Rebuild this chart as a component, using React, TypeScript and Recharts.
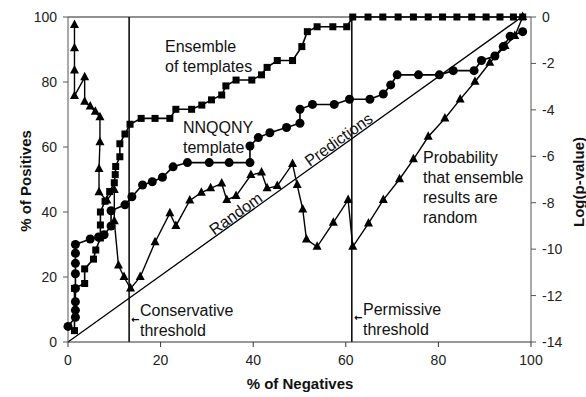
import { LineChart, Line, XAxis, YAxis, ReferenceLine } from "recharts";

// axis ticks
const xTicks = [0, 20, 40, 60, 80, 100];
const leftTicks = [0, 20, 40, 60, 80, 100];
const rightTicks = [0, -2, -4, -6, -8, -10, -12, -14];

// % of positives vs % of negatives, ensemble of templates
const ensemble = [
  { x: 1.4, y: 3.5 }, { x: 1.4, y: 16.5 }, { x: 3.6, y: 18 }, { x: 3.6, y: 22.5 },
  { x: 5.5, y: 25.5 }, { x: 6, y: 28.3 }, { x: 7, y: 32 }, { x: 7, y: 36 },
  { x: 7, y: 40 }, { x: 8, y: 43.3 }, { x: 9, y: 46.3 }, { x: 10, y: 49 },
  { x: 10.2, y: 51.5 }, { x: 10.3, y: 54 }, { x: 11.2, y: 57 }, { x: 11.2, y: 61 },
  { x: 12.3, y: 64 }, { x: 13.4, y: 67 }, { x: 15.8, y: 68.8 }, { x: 18.8, y: 68.8 },
  { x: 22, y: 68.8 }, { x: 23.3, y: 71.6 }, { x: 26.7, y: 71.6 }, { x: 28.9, y: 72.9 },
  { x: 31, y: 74.5 }, { x: 33.2, y: 76 }, { x: 34.1, y: 78.8 }, { x: 36.3, y: 80.6 },
  { x: 39.7, y: 80.6 }, { x: 41.8, y: 82.2 }, { x: 43, y: 84.5 }, { x: 45.2, y: 86.6 },
  { x: 48.5, y: 86.6 }, { x: 50.5, y: 90.9 }, { x: 51.7, y: 95.5 }, { x: 53.8, y: 97 },
  { x: 57.2, y: 97 }, { x: 60.2, y: 97 }, { x: 61.5, y: 100 }, { x: 64.8, y: 100 },
  { x: 68, y: 100 }, { x: 71.3, y: 100 }, { x: 74.6, y: 100 }, { x: 77.8, y: 100 },
  { x: 80.9, y: 100 }, { x: 84, y: 100 }, { x: 87.2, y: 100 }, { x: 90.3, y: 100 },
  { x: 93.3, y: 100 }, { x: 96.2, y: 100 }, { x: 98.2, y: 100 },
];

// NNQQNY template
const nnqqny = [
  { x: 0, y: 4.8 }, { x: 1.6, y: 7.6 }, { x: 1.6, y: 9.8 }, { x: 1.6, y: 12.4 },
  { x: 1.6, y: 16.5 }, { x: 1.6, y: 21 }, { x: 1.6, y: 24.2 }, { x: 1.6, y: 27.3 },
  { x: 1.6, y: 30 }, { x: 4.8, y: 31.7 }, { x: 6.6, y: 32.3 }, { x: 7.8, y: 33 },
  { x: 9.3, y: 35.7 }, { x: 9.3, y: 40.4 }, { x: 12.3, y: 42.2 }, { x: 13.8, y: 44.7 },
  { x: 16.1, y: 48.3 }, { x: 18.2, y: 49.3 }, { x: 20.4, y: 50.7 }, { x: 22.7, y: 53.9 },
  { x: 25.8, y: 55.2 }, { x: 30.5, y: 55.2 }, { x: 34.8, y: 55.2 }, { x: 39.3, y: 55.2 },
  { x: 39.3, y: 60.3 }, { x: 41.1, y: 62.9 }, { x: 43.6, y: 64.4 }, { x: 47.2, y: 66 },
  { x: 50.1, y: 67.3 }, { x: 50.1, y: 71.6 }, { x: 52.8, y: 73.1 }, { x: 57.5, y: 73.1 },
  { x: 60.8, y: 74.7 }, { x: 65.2, y: 74.7 }, { x: 68.1, y: 76.3 }, { x: 69.7, y: 79.1 },
  { x: 71.1, y: 82.2 }, { x: 75.7, y: 82.2 }, { x: 80.2, y: 82.2 }, { x: 83.2, y: 83.5 },
  { x: 87.7, y: 83.5 }, { x: 89.3, y: 86.6 }, { x: 92.2, y: 88 }, { x: 94, y: 90.9 },
  { x: 95.5, y: 94.1 }, { x: 98.2, y: 95.5 },
];

// log(p-value) that ensemble results are random (right axis)
const probability = [
  { x: 1.4, p: -0.34 }, { x: 1.4, p: -1.35 }, { x: 1.4, p: -2.3 }, { x: 1.4, p: -3.4 },
  { x: 3.6, p: -2.6 }, { x: 3.6, p: -3.65 }, { x: 4.8, p: -3.86 }, { x: 5.9, p: -4.08 },
  { x: 6.9, p: -4.32 }, { x: 6.9, p: -5.4 }, { x: 6.7, p: -6.55 }, { x: 6.7, p: -7.55 },
  { x: 8.4, p: -7.9 }, { x: 10, p: -7.45 }, { x: 10, p: -8.8 }, { x: 10.9, p: -10.7 },
  { x: 12.1, p: -11.2 }, { x: 13.5, p: -11.7 }, { x: 15.6, p: -11.2 }, { x: 18.8, p: -9.7 },
  { x: 22, p: -8.45 }, { x: 23.3, p: -9 }, { x: 26.3, p: -7.9 }, { x: 28.8, p: -7.57 },
  { x: 30.8, p: -7.38 }, { x: 33.2, p: -7.17 }, { x: 34.3, p: -7.88 }, { x: 36.3, p: -7.71 },
  { x: 39.5, p: -6.81 }, { x: 41.8, p: -6.7 }, { x: 43, p: -7.38 }, { x: 45.2, p: -7.28 },
  { x: 48.5, p: -6.33 }, { x: 49.5, p: -7.24 }, { x: 50.7, p: -8.29 }, { x: 51.5, p: -9.58 },
  { x: 53.8, p: -9.9 }, { x: 57.3, p: -8.86 }, { x: 60.5, p: -7.88 }, { x: 61.5, p: -9.9 },
  { x: 64.9, p: -8.89 }, { x: 68.1, p: -7.88 }, { x: 71.6, p: -6.99 }, { x: 74.6, p: -6.13 },
  { x: 77.8, p: -5.16 }, { x: 81.4, p: -4.37 }, { x: 84.7, p: -3.55 }, { x: 87.9, p: -2.79 },
  { x: 91.1, p: -1.97 }, { x: 94.4, p: -1.25 }, { x: 96.5, p: -0.82 }, { x: 98.2, p: 0 },
];

const conservative = 13.2;
const permissive = 61.3;
const randomLine = [{ x: 0, y: 0 }, { x: 98, y: 100 }];

const font = "'Liberation Sans', Arial, sans-serif";

const Square = (p: any) =>
  p.cx == null ? null : <rect key={p.index} x={p.cx - 3.5} y={p.cy - 3.5} width={7} height={7} fill="#000" />;
const Dot = (p: any) =>
  p.cx == null ? null : <circle key={p.index} cx={p.cx} cy={p.cy} r={4.5} fill="#000" />;
const Tri = (p: any) =>
  p.cx == null ? null : (
    <polygon key={p.index} points={`${p.cx},${p.cy - 5.5} ${p.cx - 4.5},${p.cy + 3} ${p.cx + 4.5},${p.cy + 3}`} fill="#000" />
  );

function Note({ left, top, lines }: { left: number; top: number; lines: string[] }) {
  return (
    <div style={{ position: "absolute", left, top, fontFamily: font, fontSize: 16, lineHeight: "20px", color: "#111", whiteSpace: "nowrap" }}>
      {lines.map((l) => <div key={l}>{l}</div>)}
    </div>
  );
}

function Arrow({ left, top }: { left: number; top: number }) {
  return (
    <div style={{ position: "absolute", left, top, fontFamily: "'DejaVu Sans', sans-serif", fontSize: 10, fontWeight: 700, lineHeight: "12px", color: "#000" }}>
      {"\u2190"}
    </div>
  );
}

function Tilted({ cx, cy, text }: { cx: number; cy: number; text: string }) {
  return (
    <div style={{ position: "absolute", left: cx, top: cy, fontFamily: font, fontSize: 16, lineHeight: "16px", color: "#111", whiteSpace: "nowrap", transform: "translate(-50%, -50%) rotate(-35.6deg)" }}>
      {text}
    </div>
  );
}

export default function App() {
  const tick = { fontSize: 14, fill: "#222", fontFamily: font };
  const title = { position: "absolute" as const, fontFamily: font, fontSize: 15, fontWeight: 700, color: "#111", whiteSpace: "nowrap" as const };
  return (
    <div style={{ position: "absolute", left: 0, top: 0, width: 586, height: 397, background: "#fff" }}>
      <LineChart width={586} height={397} margin={{ top: 17, right: 0, bottom: 0, left: 0 }}>
        <XAxis type="number" dataKey="x" domain={[0, 100]} ticks={xTicks} height={55} tickSize={5} tickMargin={8} stroke="#333" tick={tick} />
        <YAxis yAxisId="left" domain={[0, 100]} ticks={leftTicks} width={68} tickSize={5} tickMargin={6} stroke="#555" tick={tick} />
        <YAxis yAxisId="right" orientation="right" domain={[-14, 0]} ticks={rightTicks} width={55} tickSize={5} tickMargin={6} stroke="#555" tick={tick} />
        <ReferenceLine yAxisId="left" y={100} stroke="#222" strokeWidth={1.2} />
        <ReferenceLine yAxisId="left" x={conservative} stroke="#000" strokeWidth={1.5} />
        <ReferenceLine yAxisId="left" x={permissive} stroke="#000" strokeWidth={1.5} />
        <ReferenceLine yAxisId="left" segment={randomLine} stroke="#000" strokeWidth={1.3} />
        <Line yAxisId="left" data={ensemble} dataKey="y" type="linear" stroke="#000" strokeWidth={1.6} dot={Square} isAnimationActive={false} />
        <Line yAxisId="left" data={nnqqny} dataKey="y" type="linear" stroke="#000" strokeWidth={1.6} dot={Dot} isAnimationActive={false} />
        <Line yAxisId="right" data={probability} dataKey="p" type="linear" stroke="#000" strokeWidth={1.4} dot={Tri} isAnimationActive={false} />
      </LineChart>

      <div style={{ ...title, left: 300, top: 383, transform: "translate(-50%, -50%)" }}>% of Negatives</div>
      <div style={{ ...title, left: 25, top: 181, transform: "translate(-50%, -50%) rotate(-90deg)" }}>% of Positives</div>
      <div style={{ ...title, left: 578, top: 182, transform: "translate(-50%, -50%) rotate(-90deg)" }}>Log(p-value)</div>

      <Note left={165} top={37} lines={["Ensemble", "of templates"]} />
      <Note left={183} top={118} lines={["NNQQNY", "template"]} />
      <Note left={423} top={148} lines={["Probability", "that ensemble", "results are", "random"]} />
      <Note left={140} top={301} lines={["Conservative", "threshold"]} />
      <Note left={363} top={300} lines={["Permissive", "threshold"]} />
      <Arrow left={131} top={314} />
      <Arrow left={354} top={312} />
      <Tilted cx={236} cy={214} text="Random" />
      <Tilted cx={339} cy={140} text="Predictions" />
    </div>
  );
}
